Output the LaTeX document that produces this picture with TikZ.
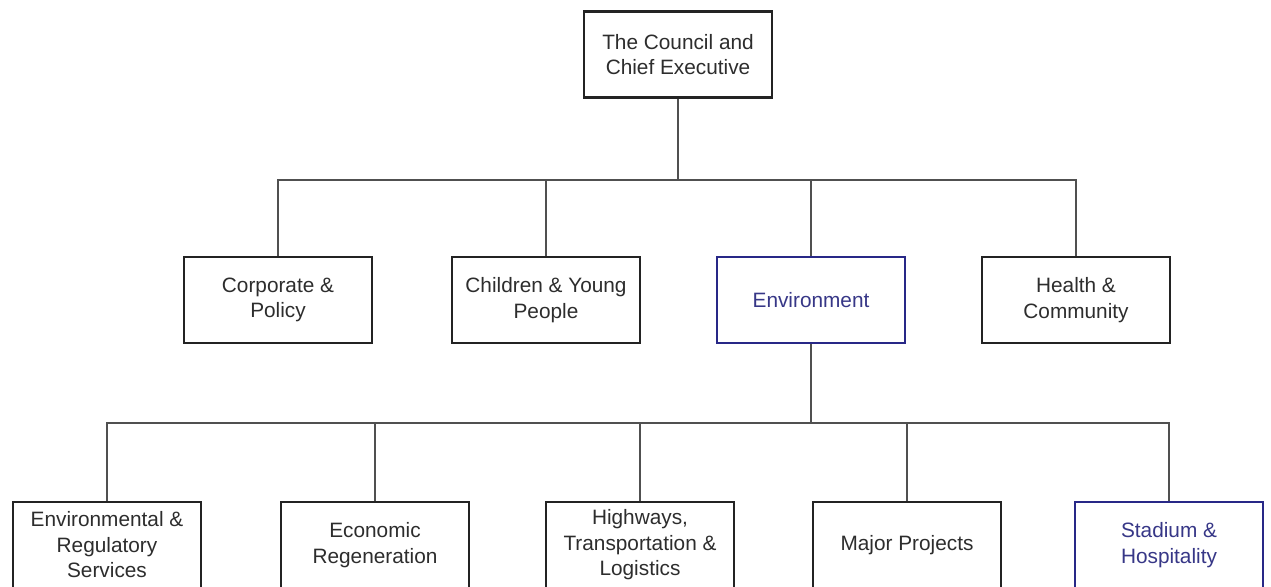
\documentclass[tikz,border=0pt]{standalone}
\usepackage{fontspec}
\setmainfont{Liberation Sans}
\definecolor{txt}{RGB}{45,45,45}
\definecolor{edge}{RGB}{35,35,35}
\definecolor{navy}{RGB}{40,40,135}
\definecolor{navytxt}{RGB}{55,55,135}
\definecolor{conn}{RGB}{80,80,80}
\begin{document}
\begin{tikzpicture}[x=1pt,y=-1pt,
  unit/.style={draw=edge,line width=2.9pt,fill=white,minimum width=188pt,minimum height=86pt,
    align=center,text=txt,font=\fontsize{20.8}{25.5}\selectfont,inner sep=0pt},
  hl/.style={draw=navy,text=navytxt},
  link/.style={draw=conn,line width=2pt}]
\useasboundingbox (0,0) rectangle (1271,586);
\clip (0,0) rectangle (1271,586);
% nodes
\node[unit] (ceo) at (678,54.5) {The Council and\\Chief Executive};
\node[unit] (corp) at (278,300) {Corporate \&\\Policy};
\node[unit] (child) at (546,300) {Children \& Young\\People};
\node[unit,hl] (env) at (811,300) {Environment};
\node[unit] (health) at (1076,300) {Health \&\\Community};
\node[unit] (ers) at (107,545) {Environmental \&\\Regulatory\\Services};
\node[unit] (eco) at (375,545) {Economic\\Regeneration};
\node[unit] (hwy) at (640,545) {Highways,\\Transportation \&\\Logistics};
\node[unit] (maj) at (907,545) {Major Projects};
\node[unit,hl] (sta) at (1169,545) {Stadium \&\\Hospitality};
% connectors
\coordinate (b1) at (678,180);
\coordinate (b2) at (811,423);
\begin{scope}[on background layer/.try]
\draw[link] (ceo.south) -- (b1);
\draw[link] (corp.north) |- (b1) -| (health.north);
\draw[link] (child.north) -- (child.north |- b1);
\draw[link] (env.north) -- (env.north |- b1);
\draw[link] (env.south) -- (b2);
\draw[link] (ers.north) |- (b2) -| (sta.north);
\draw[link] (eco.north) -- (eco.north |- b2);
\draw[link] (hwy.north) -- (hwy.north |- b2);
\draw[link] (maj.north) -- (maj.north |- b2);
\end{scope}
\end{tikzpicture}
\end{document}
